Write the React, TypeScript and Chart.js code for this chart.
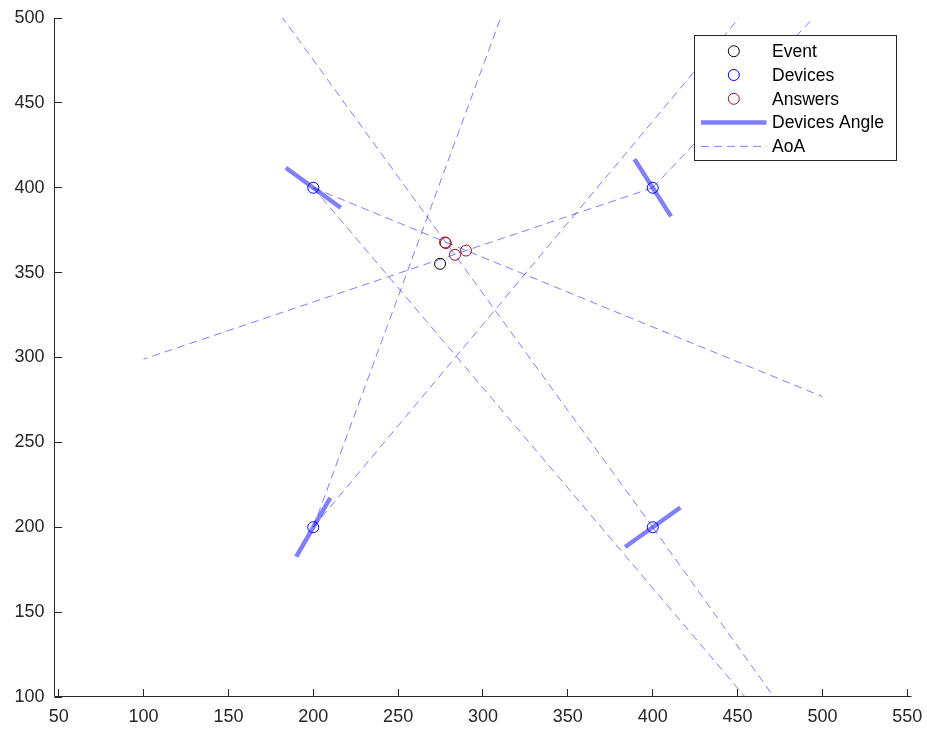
import React, { useEffect, useRef } from "react";
import { Chart, registerables } from "chart.js";

Chart.register(...registerables);

// ---- axis ticks ----
const xTicks = [50, 100, 150, 200, 250, 300, 350, 400, 450, 500, 550];
const yTicks = [100, 150, 200, 250, 300, 350, 400, 450, 500];
const X_MIN = 47.55;
const X_MAX = 552.45;
const Y_MIN = 100;
const Y_MAX = 500;

// ---- data ----
const eventX = [274.7];
const eventY = [355.2];

const devicesX = [200, 400, 200, 400];
const devicesY = [400, 400, 200, 200];

const answersX = [277.6, 278.1, 283.5, 290.0];
const answersY = [367.8, 367.4, 360.5, 363.0];

// device orientation (degrees, counter-clockwise from +x)
const deviceAngleDeg = [-36, 122.6, 60, 35.5];
// two AoA estimates per device (absolute degrees)
const aoaDegA = [-22.3, 198.6, 69.8, 126.0];
const aoaDegB = [-49.7, 46.6, 50.1, -54.5];

const BAR_HALF = 20; // half length of the device-angle bar (data units)
const AOA_REACH_X = 300; // horizontal reach of each AoA ray (data units)

const rad = (d: number) => (d * Math.PI) / 180;
const GAP = { x: NaN, y: null as any };

const eventPts = eventX.map((x, i) => ({ x, y: eventY[i] }));
const devicePts = devicesX.map((x, i) => ({ x, y: devicesY[i] }));
const answerPts = answersX.map((x, i) => ({ x, y: answersY[i] }));

const anglePts = devicesX.flatMap((dx, i) => {
  const a = rad(deviceAngleDeg[i]);
  const c = Math.cos(a) * BAR_HALF;
  const s = Math.sin(a) * BAR_HALF;
  return [
    { x: dx - c, y: devicesY[i] - s },
    { x: dx + c, y: devicesY[i] + s },
    GAP,
  ];
});

const aoaPts = devicesX.flatMap((dx, i) =>
  [aoaDegA[i], aoaDegB[i]].flatMap((deg) => {
    const a = rad(deg);
    const L = AOA_REACH_X / Math.abs(Math.cos(a));
    return [
      { x: dx, y: devicesY[i] },
      { x: dx + L * Math.cos(a), y: devicesY[i] + L * Math.sin(a) },
      GAP,
    ];
  })
);

const FONT = "'Liberation Sans', Arial, Helvetica, sans-serif";
const AXIS_COLOR = "#262626";
const LINE_BLUE = "rgba(0,0,255,0.5)";

const zeroPad = (s: any) => {
  s.paddingLeft = 0;
  s.paddingRight = 0;
  s.paddingTop = 0;
  s.paddingBottom = 0;
};

const matlabPlugin = {
  id: "matlabDecor",
  afterDraw(chart: any) {
    const { ctx, chartArea, scales } = chart;
    const { left, right, top, bottom } = chartArea;
    const xs = scales.x;
    const ys = scales.y;
    ctx.save();
    // axes lines
    ctx.strokeStyle = AXIS_COLOR;
    ctx.lineWidth = 1;
    const ax = Math.floor(left) + 0.5;
    const ay = Math.floor(bottom) - 0.5;
    ctx.beginPath();
    ctx.moveTo(ax, top);
    ctx.lineTo(ax, ay);
    ctx.lineTo(right, ay);
    ctx.stroke();
    // inward ticks
    const TL = 7.5;
    ctx.beginPath();
    xTicks.forEach((v) => {
      const p = Math.floor(xs.getPixelForValue(v)) + 0.5;
      ctx.moveTo(p, ay);
      ctx.lineTo(p, ay - TL);
    });
    yTicks.forEach((v) => {
      const p = Math.floor(ys.getPixelForValue(v)) + 0.5;
      ctx.moveTo(ax, p);
      ctx.lineTo(ax + TL, p);
    });
    ctx.stroke();

    // legend box
    const bw = 202;
    const bh = 125;
    const bx = Math.floor(right - 217.5) + 0.5;
    const by = Math.floor(top + 17) + 0.5;
    ctx.fillStyle = "#ffffff";
    ctx.fillRect(bx, by, bw, bh);
    ctx.strokeStyle = AXIS_COLOR;
    ctx.lineWidth = 1;
    ctx.strokeRect(bx, by, bw, bh);

    ctx.font = `17.5px ${FONT}`;
    ctx.textBaseline = "middle";
    ctx.textAlign = "left";
    chart.data.datasets.forEach((ds: any, k: number) => {
      const ry = by + 15.7 + 23.8 * k;
      if (ds.showLine) {
        ctx.save();
        ctx.strokeStyle = ds.borderColor;
        ctx.lineWidth = ds.borderWidth;
        ctx.setLineDash(ds.borderDash || []);
        ctx.beginPath();
        ctx.moveTo(bx + 6.5, ry);
        ctx.lineTo(bx + 72, ry);
        ctx.stroke();
        ctx.restore();
      } else {
        ctx.save();
        ctx.strokeStyle = ds.borderColor;
        ctx.lineWidth = 1;
        ctx.beginPath();
        ctx.arc(bx + 39.3, ry, ds.pointRadius, 0, Math.PI * 2);
        ctx.stroke();
        ctx.restore();
      }
      ctx.fillStyle = "#000000";
      ctx.fillText(ds.label, bx + 77.5, ry + 1);
    });
    ctx.restore();
  },
};

export default function App() {
  const ref = useRef<HTMLCanvasElement | null>(null);

  useEffect(() => {
    if (!ref.current) return;
    const marker = (color: string) => ({
      showLine: false,
      pointStyle: "circle",
      pointRadius: 5.5,
      pointBorderWidth: 1,
      pointBorderColor: color,
      pointBackgroundColor: "rgba(0,0,0,0)",
      borderColor: color,
      backgroundColor: "rgba(0,0,0,0)",
    });
    const chart = new Chart(ref.current, {
      type: "scatter",
      data: {
        datasets: [
          { label: "Event", data: eventPts, order: 5, ...marker("#000000") },
          { label: "Devices", data: devicePts, order: 4, ...marker("#0000ff") },
          { label: "Answers", data: answerPts, order: 3, ...marker("#9a1218") },
          {
            label: "Devices Angle",
            data: anglePts,
            order: 2,
            showLine: true,
            spanGaps: false,
            pointRadius: 0,
            borderColor: LINE_BLUE,
            borderWidth: 4.5,
            borderCapStyle: "butt",
          },
          {
            label: "AoA",
            data: aoaPts,
            order: 1,
            showLine: true,
            spanGaps: false,
            pointRadius: 0,
            borderColor: LINE_BLUE,
            borderWidth: 1,
            borderDash: [8, 5],
          },
        ] as any,
      },
      options: {
        responsive: false,
        maintainAspectRatio: false,
        animation: false,
        events: [],
        layout: { padding: { left: 0, right: 15.5, top: 18, bottom: 0 } },
        plugins: { legend: { display: false }, tooltip: { enabled: false } },
        scales: {
          x: {
            type: "linear",
            min: X_MIN,
            max: X_MAX,
            border: { display: false },
            grid: { display: false, drawTicks: false },
            afterBuildTicks: (s: any) => {
              s.ticks = xTicks.map((v) => ({ value: v }));
            },
            afterFit: (s: any) => {
              s.height = 34;
              zeroPad(s);
            },
            ticks: {
              autoSkip: false,
              maxRotation: 0,
              padding: 9,
              color: AXIS_COLOR,
              font: { family: FONT, size: 18 },
            },
          },
          y: {
            type: "linear",
            min: Y_MIN,
            max: Y_MAX,
            border: { display: false },
            grid: { display: false, drawTicks: false },
            afterBuildTicks: (s: any) => {
              s.ticks = yTicks.map((v) => ({ value: v }));
            },
            afterFit: (s: any) => {
              s.width = 54.5;
              zeroPad(s);
            },
            ticks: {
              autoSkip: false,
              padding: 10,
              color: AXIS_COLOR,
              font: { family: FONT, size: 18 },
            },
          },
        },
      } as any,
      plugins: [matlabPlugin],
    });
    return () => chart.destroy();
  }, []);

  return (
    <div style={{ position: "absolute", left: 0, top: 0, width: 927, height: 731, background: "#fff" }}>
      <canvas ref={ref} width={927} height={731} style={{ width: 927, height: 731, display: "block" }} />
    </div>
  );
}
